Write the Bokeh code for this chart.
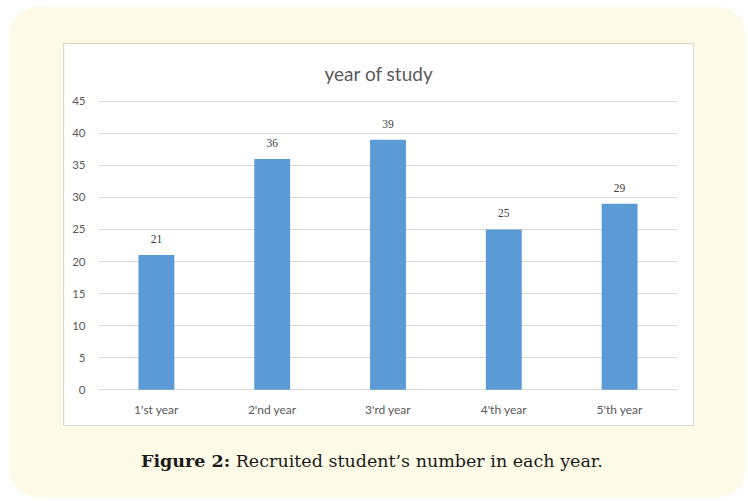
from bokeh.plotting import figure
from bokeh.models import ColumnDataSource, Range1d, FactorRange, LabelSet, FixedTicker, Div, Column
from bokeh.embed import file_html
from bokeh.resources import INLINE

# Students recruited per year of study
years = ["1'st year", "2'nd year", "3'rd year", "4'th year", "5'th year"]
students = [21, 36, 39, 25, 29]
y_ticks = [0, 5, 10, 15, 20, 25, 30, 35, 40, 45]

CHART_FONT = "Lato"
GRAY_TEXT = "#595959"

src = ColumnDataSource(dict(year=years, n=students, txt=[str(v) for v in students]))

# chart panel (white card with light border)
p = figure(width=629, height=381, output_backend="svg", toolbar_location=None,
           x_range=FactorRange(*years, range_padding=0), y_range=Range1d(-0.13, 45.13),
           min_border_left=34, min_border_right=16, min_border_top=55, min_border_bottom=35,
           title="year of study", margin=(37, 0, 0, 54),
           styles={"box-shadow": "0 0 0 1px #d9d9d9"})
p.border_fill_color = "white"
p.background_fill_color = "white"
p.outline_line_color = None

# title centred over the white panel rather than the plot frame
p.title.align = "left"
p.title.offset = 226
p.title.standoff = 31
p.title.text_font = CHART_FONT
p.title.text_font_size = "19px"
p.title.text_font_style = "normal"
p.title.text_color = GRAY_TEXT

p.vbar(x="year", top="n", width=0.31, source=src, fill_color="#5b9bd5", line_color=None)

labels = LabelSet(x="year", y="n", text="txt", source=src, text_align="center", text_baseline="bottom",
                  y_offset=12, text_font=CHART_FONT, text_font_size="11.5px", text_color="#404040")
p.add_layout(labels)

# axes
p.yaxis.ticker = FixedTicker(ticks=y_ticks)
p.yaxis.axis_line_color = None
p.yaxis.major_tick_line_color = None
p.yaxis.minor_tick_line_color = None
p.yaxis.major_label_standoff = 7
p.yaxis.major_label_text_font = CHART_FONT
p.yaxis.major_label_text_font_size = "11.5px"
p.yaxis.major_label_text_color = GRAY_TEXT

p.xaxis.axis_line_color = None
p.xaxis.major_tick_line_color = None
p.xaxis.major_label_standoff = 5
p.xaxis.major_label_text_font = CHART_FONT
p.xaxis.major_label_text_font_size = "12px"
p.xaxis.major_label_text_color = GRAY_TEXT

p.xgrid.grid_line_color = None
p.ygrid.ticker = FixedTicker(ticks=y_ticks)
p.ygrid.grid_line_color = "#d9d9d9"
p.ygrid.grid_line_width = 1

caption = Div(
    text="<b>Figure 2:</b> Recruited student\u2019s number in each year.",
    margin=(26, 0, 0, 131), width=600,
    styles={"font-family": "'DejaVu Serif', serif", "font-size": "17.5px",
            "color": "#1a1a1a", "line-height": "21px", "white-space": "nowrap"})

page = Column(children=[p, caption], width=735, height=490, margin=(7, 0, 0, 10),
              styles={"background-color": "#fefae8", "border-radius": "26px"})

open("out.html", "w").write(file_html(page, INLINE))
